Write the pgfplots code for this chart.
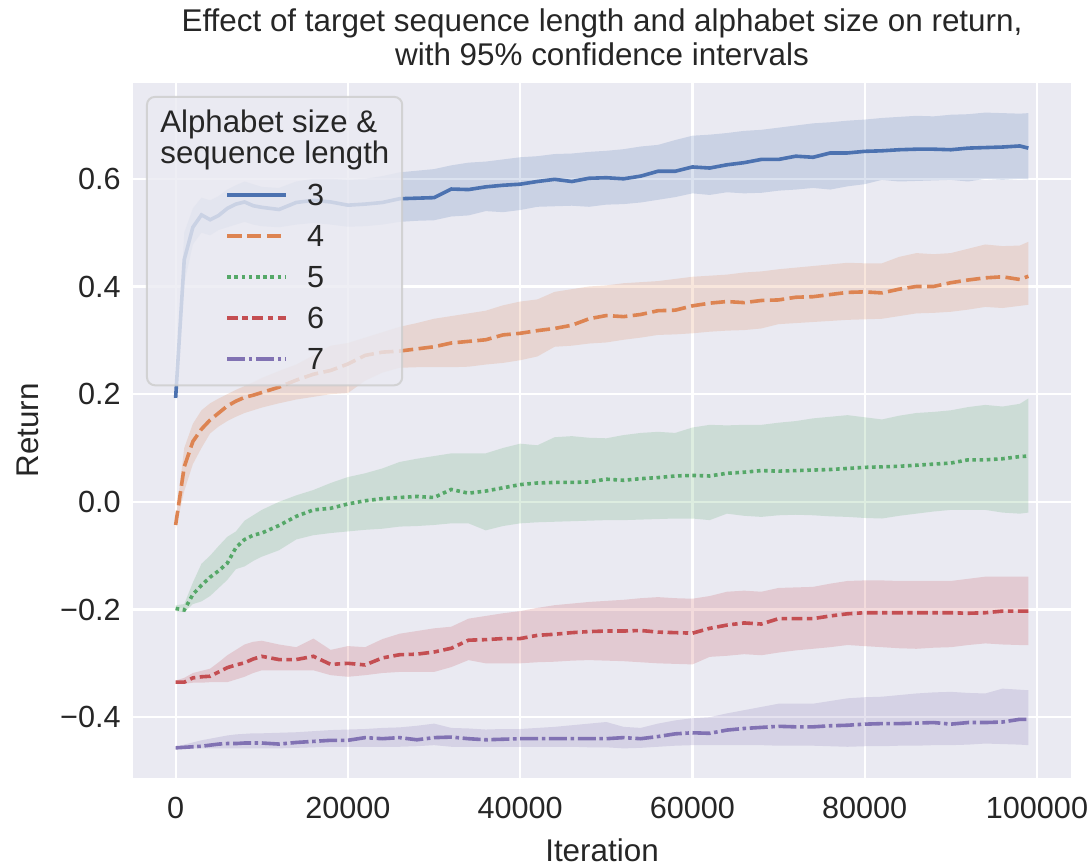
\documentclass[border=0pt]{standalone}
\usepackage{pgfplots}
\pgfplotsset{compat=1.18}
\usepackage{pgfplotstable}
\usepgfplotslibrary{fillbetween}
\usepackage{fontspec}
\setmainfont{Liberation Sans}

\definecolor{bg}{HTML}{EAEAF2}
\definecolor{txt}{HTML}{262626}
\definecolor{cA}{HTML}{4C72B0}
\definecolor{cB}{HTML}{DD8452}
\definecolor{cC}{HTML}{55A868}
\definecolor{cD}{HTML}{C44E52}
\definecolor{cE}{HTML}{8172B3}

% columns: iteration, mean return, lower and upper bound of the 95% CI
\pgfplotstableread{
x y lo hi
0 0.193 0.188 0.200
1000 0.450 0.405 0.500
2000 0.510 0.478 0.545
3000 0.533 0.500 0.565
4000 0.524 0.495 0.560
5000 0.532 0.505 0.568
6000 0.545 0.510 0.580
7000 0.553 0.515 0.588
8000 0.557 0.520 0.595
9000 0.550 0.515 0.590
10000 0.547 0.512 0.585
12000 0.543 0.510 0.583
14000 0.556 0.515 0.595
16000 0.560 0.518 0.600
18000 0.557 0.515 0.600
20000 0.551 0.511 0.598
22000 0.553 0.512 0.600
24000 0.556 0.515 0.605
26000 0.563 0.520 0.612
28000 0.564 0.522 0.615
30000 0.565 0.523 0.618
32000 0.581 0.530 0.625
34000 0.580 0.532 0.630
36000 0.585 0.540 0.632
38000 0.588 0.538 0.636
40000 0.590 0.542 0.640
42000 0.595 0.548 0.642
44000 0.599 0.549 0.646
46000 0.595 0.550 0.647
48000 0.601 0.548 0.650
50000 0.602 0.552 0.652
52000 0.600 0.553 0.655
54000 0.605 0.556 0.660
56000 0.614 0.561 0.663
58000 0.614 0.566 0.672
60000 0.622 0.573 0.680
62000 0.620 0.570 0.682
64000 0.626 0.575 0.685
66000 0.630 0.573 0.689
68000 0.636 0.574 0.691
70000 0.636 0.578 0.695
72000 0.642 0.580 0.699
74000 0.640 0.583 0.703
76000 0.648 0.580 0.705
78000 0.648 0.586 0.708
80000 0.651 0.590 0.710
82000 0.652 0.598 0.713
84000 0.654 0.595 0.715
86000 0.655 0.596 0.717
88000 0.655 0.597 0.716
90000 0.654 0.598 0.719
92000 0.657 0.595 0.720
94000 0.658 0.600 0.723
96000 0.659 0.598 0.722
98000 0.661 0.600 0.721
99000 0.657 0.599 0.722
}\tblA

\pgfplotstableread{
x y lo hi
0 -0.043 -0.050 -0.035
1000 0.065 0.020 0.100
2000 0.112 0.070 0.145
3000 0.135 0.100 0.170
4000 0.152 0.127 0.183
5000 0.165 0.140 0.192
6000 0.178 0.150 0.200
7000 0.187 0.158 0.208
8000 0.194 0.165 0.215
9000 0.198 0.170 0.222
10000 0.203 0.175 0.230
12000 0.213 0.183 0.243
14000 0.226 0.190 0.255
16000 0.237 0.195 0.272
18000 0.244 0.200 0.290
20000 0.256 0.202 0.295
22000 0.272 0.225 0.305
24000 0.278 0.240 0.315
26000 0.280 0.249 0.325
28000 0.284 0.250 0.332
30000 0.288 0.250 0.340
32000 0.295 0.250 0.345
34000 0.298 0.251 0.350
36000 0.301 0.255 0.355
38000 0.310 0.258 0.365
40000 0.313 0.263 0.372
42000 0.318 0.270 0.376
44000 0.322 0.288 0.390
46000 0.328 0.290 0.395
48000 0.340 0.294 0.400
50000 0.346 0.296 0.402
52000 0.344 0.301 0.406
54000 0.348 0.305 0.408
56000 0.355 0.310 0.410
58000 0.356 0.311 0.414
60000 0.364 0.313 0.418
62000 0.369 0.316 0.420
64000 0.372 0.318 0.422
66000 0.370 0.319 0.426
68000 0.374 0.322 0.428
70000 0.375 0.330 0.432
72000 0.380 0.332 0.435
74000 0.381 0.334 0.438
76000 0.385 0.336 0.441
78000 0.389 0.338 0.444
80000 0.390 0.339 0.443
82000 0.388 0.340 0.443
84000 0.395 0.345 0.455
86000 0.400 0.350 0.462
88000 0.400 0.351 0.460
90000 0.407 0.353 0.462
92000 0.412 0.357 0.470
94000 0.416 0.362 0.478
96000 0.418 0.360 0.475
98000 0.413 0.364 0.476
99000 0.419 0.366 0.483
}\tblB

\pgfplotstableread{
x y lo hi
0 -0.198 -0.203 -0.192
1000 -0.201 -0.205 -0.190
2000 -0.172 -0.190 -0.150
3000 -0.155 -0.185 -0.115
4000 -0.140 -0.175 -0.100
5000 -0.128 -0.160 -0.082
6000 -0.114 -0.145 -0.065
7000 -0.085 -0.125 -0.055
8000 -0.070 -0.120 -0.035
9000 -0.062 -0.110 -0.025
10000 -0.058 -0.102 -0.015
12000 -0.044 -0.090 0.000
14000 -0.027 -0.070 0.012
16000 -0.015 -0.062 0.022
18000 -0.012 -0.058 0.035
20000 -0.004 -0.055 0.046
22000 0.002 -0.052 0.053
24000 0.006 -0.050 0.062
26000 0.008 -0.046 0.074
28000 0.010 -0.045 0.080
30000 0.008 -0.043 0.085
32000 0.023 -0.040 0.090
34000 0.016 -0.040 0.090
36000 0.020 -0.053 0.090
38000 0.026 -0.045 0.100
40000 0.032 -0.040 0.108
42000 0.035 -0.038 0.105
44000 0.036 -0.037 0.120
46000 0.036 -0.036 0.122
48000 0.037 -0.035 0.119
50000 0.042 -0.034 0.118
52000 0.040 -0.034 0.124
54000 0.043 -0.033 0.128
56000 0.045 -0.032 0.130
58000 0.048 -0.031 0.128
60000 0.049 -0.031 0.138
62000 0.048 -0.034 0.143
64000 0.053 -0.022 0.142
66000 0.055 -0.026 0.143
68000 0.058 -0.028 0.143
70000 0.057 -0.025 0.147
72000 0.058 -0.024 0.150
74000 0.059 -0.025 0.155
76000 0.060 -0.027 0.158
78000 0.062 -0.028 0.161
80000 0.064 -0.030 0.157
82000 0.065 -0.031 0.153
84000 0.066 -0.026 0.160
86000 0.068 -0.022 0.165
88000 0.070 -0.018 0.167
90000 0.072 -0.015 0.170
92000 0.078 -0.015 0.176
94000 0.078 -0.015 0.180
96000 0.080 -0.020 0.177
98000 0.084 -0.022 0.182
99000 0.085 -0.020 0.192
}\tblC

\pgfplotstableread{
x y lo hi
0 -0.335 -0.338 -0.332
1000 -0.335 -0.338 -0.327
2000 -0.327 -0.336 -0.318
3000 -0.325 -0.336 -0.314
4000 -0.324 -0.335 -0.310
5000 -0.316 -0.335 -0.298
6000 -0.308 -0.335 -0.285
7000 -0.303 -0.330 -0.275
8000 -0.299 -0.325 -0.265
9000 -0.292 -0.318 -0.260
10000 -0.287 -0.313 -0.258
12000 -0.293 -0.313 -0.265
14000 -0.293 -0.313 -0.270
16000 -0.287 -0.313 -0.254
18000 -0.302 -0.322 -0.275
20000 -0.300 -0.325 -0.268
22000 -0.303 -0.322 -0.270
24000 -0.290 -0.318 -0.255
26000 -0.284 -0.316 -0.245
28000 -0.283 -0.316 -0.240
30000 -0.279 -0.316 -0.235
32000 -0.272 -0.307 -0.232
34000 -0.257 -0.294 -0.217
36000 -0.256 -0.300 -0.212
38000 -0.254 -0.300 -0.207
40000 -0.254 -0.300 -0.203
42000 -0.248 -0.298 -0.197
44000 -0.246 -0.297 -0.192
46000 -0.243 -0.295 -0.189
48000 -0.241 -0.294 -0.186
50000 -0.240 -0.295 -0.184
52000 -0.240 -0.296 -0.182
54000 -0.239 -0.298 -0.179
56000 -0.242 -0.300 -0.177
58000 -0.243 -0.301 -0.179
60000 -0.244 -0.302 -0.180
62000 -0.235 -0.288 -0.175
64000 -0.229 -0.286 -0.167
66000 -0.225 -0.283 -0.165
68000 -0.227 -0.285 -0.167
70000 -0.217 -0.280 -0.160
72000 -0.217 -0.276 -0.159
74000 -0.217 -0.273 -0.158
76000 -0.212 -0.270 -0.152
78000 -0.208 -0.266 -0.147
80000 -0.206 -0.268 -0.146
82000 -0.206 -0.270 -0.146
84000 -0.206 -0.272 -0.147
86000 -0.206 -0.273 -0.147
88000 -0.206 -0.271 -0.147
90000 -0.206 -0.270 -0.147
92000 -0.207 -0.266 -0.143
94000 -0.206 -0.263 -0.139
96000 -0.203 -0.265 -0.139
98000 -0.203 -0.266 -0.139
99000 -0.203 -0.266 -0.139
}\tblD

\pgfplotstableread{
x y lo hi
0 -0.457 -0.459 -0.455
1000 -0.456 -0.459 -0.451
2000 -0.455 -0.458 -0.447
3000 -0.454 -0.458 -0.443
4000 -0.452 -0.458 -0.440
5000 -0.450 -0.458 -0.437
6000 -0.449 -0.458 -0.434
7000 -0.449 -0.458 -0.432
8000 -0.448 -0.458 -0.431
9000 -0.448 -0.458 -0.430
10000 -0.448 -0.458 -0.430
12000 -0.450 -0.458 -0.429
14000 -0.447 -0.457 -0.428
16000 -0.445 -0.456 -0.426
18000 -0.443 -0.455 -0.424
20000 -0.443 -0.455 -0.423
22000 -0.438 -0.455 -0.422
24000 -0.440 -0.455 -0.420
26000 -0.438 -0.455 -0.419
28000 -0.442 -0.454 -0.416
30000 -0.438 -0.452 -0.412
32000 -0.437 -0.455 -0.420
34000 -0.440 -0.455 -0.421
36000 -0.442 -0.455 -0.423
38000 -0.441 -0.455 -0.422
40000 -0.440 -0.455 -0.422
42000 -0.440 -0.455 -0.420
44000 -0.440 -0.455 -0.418
46000 -0.440 -0.455 -0.415
48000 -0.440 -0.456 -0.412
50000 -0.440 -0.456 -0.409
52000 -0.438 -0.458 -0.418
54000 -0.440 -0.457 -0.420
56000 -0.436 -0.455 -0.412
58000 -0.431 -0.453 -0.406
60000 -0.429 -0.452 -0.402
62000 -0.430 -0.452 -0.400
64000 -0.424 -0.452 -0.393
66000 -0.421 -0.452 -0.387
68000 -0.419 -0.452 -0.381
70000 -0.417 -0.453 -0.375
72000 -0.418 -0.453 -0.375
74000 -0.418 -0.453 -0.375
76000 -0.416 -0.454 -0.370
78000 -0.415 -0.455 -0.365
80000 -0.413 -0.454 -0.363
82000 -0.412 -0.454 -0.362
84000 -0.412 -0.453 -0.359
86000 -0.411 -0.453 -0.356
88000 -0.410 -0.452 -0.354
90000 -0.413 -0.452 -0.353
92000 -0.410 -0.451 -0.355
94000 -0.410 -0.449 -0.356
96000 -0.409 -0.450 -0.347
98000 -0.404 -0.451 -0.349
99000 -0.404 -0.452 -0.350
}\tblE

\begin{document}
\begin{tikzpicture}
\begin{axis}[
  name=ax,
  set layers,
  scale only axis,
  width=469bp, height=347.5bp,
  xmin=-4950, xmax=103950,
  ymin=-0.513, ymax=0.778,
  axis background/.style={fill=bg},
  axis line style={draw=none},
  major tick length=0pt,
  grid=major,
  major grid style={white, line width=1.1bp},
  xtick={0,20000,40000,60000,80000,100000},
  xticklabels={0,20000,40000,60000,80000,100000},
  ytick={-0.4,-0.2,0,0.2,0.4,0.6},
  yticklabels={−0.4,−0.2,0.0,0.2,0.4,0.6},
  scaled x ticks=false,
  tick label style={font=\fontsize{15.3bp}{17bp}\selectfont, text=txt},
  xticklabel style={anchor=base, inner sep=0pt, yshift=-20bp},
  yticklabel style={anchor=east, inner sep=0pt, xshift=-6bp},
  every axis plot/.append style={line width=1.8bp},
  legend cell align=left,
  legend image code/.code={\draw[#1] (0bp,0bp) -- (29.5bp,0bp);},
  legend style={at={(rel axis cs:0.0985,0.855)}, anchor=north west,
    draw=none, fill=none, inner sep=0pt, outer sep=0pt,
    font=\fontsize{15.3bp}{17bp}\selectfont, text=txt,
    row sep=9.5bp, column sep=9.6bp,
    nodes={inner sep=0pt, text height=11bp, text depth=0pt}},
]
% confidence bands
\addplot[name path=Ahi, draw=none, forget plot] table[x=x, y=hi] {\tblA};
\addplot[name path=Alo, draw=none, forget plot] table[x=x, y=lo] {\tblA};
\addplot[fill=cA, fill opacity=0.2, draw=none, forget plot] fill between[of=Ahi and Alo];
\addplot[name path=Bhi, draw=none, forget plot] table[x=x, y=hi] {\tblB};
\addplot[name path=Blo, draw=none, forget plot] table[x=x, y=lo] {\tblB};
\addplot[fill=cB, fill opacity=0.2, draw=none, forget plot] fill between[of=Bhi and Blo];
\addplot[name path=Chi, draw=none, forget plot] table[x=x, y=hi] {\tblC};
\addplot[name path=Clo, draw=none, forget plot] table[x=x, y=lo] {\tblC};
\addplot[fill=cC, fill opacity=0.2, draw=none, forget plot] fill between[of=Chi and Clo];
\addplot[name path=Dhi, draw=none, forget plot] table[x=x, y=hi] {\tblD};
\addplot[name path=Dlo, draw=none, forget plot] table[x=x, y=lo] {\tblD};
\addplot[fill=cD, fill opacity=0.2, draw=none, forget plot] fill between[of=Dhi and Dlo];
\addplot[name path=Ehi, draw=none, forget plot] table[x=x, y=hi] {\tblE};
\addplot[name path=Elo, draw=none, forget plot] table[x=x, y=lo] {\tblE};
\addplot[fill=cE, fill opacity=0.2, draw=none, forget plot] fill between[of=Ehi and Elo];

% mean lines
\addplot[cA, no markers] table[x=x, y=y] {\tblA};
\addlegendentry{3}
\addplot[cB, no markers, dash pattern=on 7.2bp off 2.7bp] table[x=x, y=y] {\tblB};
\addlegendentry{4}
\addplot[cC, no markers, dash pattern=on 1.8bp off 1.8bp] table[x=x, y=y] {\tblC};
\addlegendentry{5}
\addplot[cD, no markers, dash pattern=on 5.4bp off 2.25bp on 2.7bp off 2.25bp] table[x=x, y=y] {\tblD};
\addlegendentry{6}
\addplot[cE, no markers, dash pattern=on 9bp off 1.8bp on 1.8bp off 1.8bp] table[x=x, y=y] {\tblE};
\addlegendentry{7}

% legend frame and title
\path[draw=black!20, fill=bg, draw opacity=0.8, fill opacity=0.8, line width=1bp, rounded corners=4bp]
  (rel axis cs:0.0149,0.565) rectangle (rel axis cs:0.287,0.980);
\node[anchor=north west, align=left, inner sep=0pt, text=txt,
  font=\fontsize{15.6bp}{15.8bp}\selectfont] at (rel axis cs:0.0288,0.962)
  {Alphabet size \&\\sequence length};
\end{axis}

\node[anchor=south, align=center, inner sep=0pt, text=txt,
  font=\fontsize{15.7bp}{17bp}\selectfont] at ([yshift=8.5bp]ax.north)
  {Effect of target sequence length and alphabet size on return,\\with 95\% confidence intervals};
\node[anchor=base, inner sep=0pt, text=txt, font=\fontsize{15.7bp}{17bp}\selectfont]
  at ([yshift=-41.5bp]ax.south) {Iteration};
\node[rotate=90, inner sep=0pt, text=txt, font=\fontsize{15.7bp}{17bp}\selectfont]
  at ([xshift=-52.5bp]ax.west) {Return};

\pgfresetboundingbox
\path[use as bounding box] ([shift={(-66.5bp,-44.5bp)}]ax.south west)
  rectangle ([shift={(478bp,389bp)}]ax.south west);
\end{tikzpicture}
\end{document}
